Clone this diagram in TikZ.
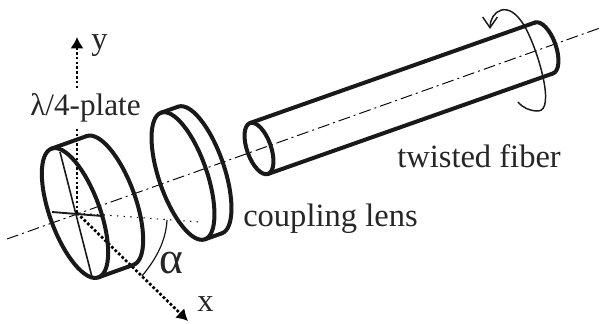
\documentclass[tikz,border=0pt]{standalone}
\usepackage{fontspec}
\setmainfont{Liberation Serif}
\usetikzlibrary{arrows.meta}
\tikzset{
  thick line/.style={line width=3pt,line cap=round,line join=round,draw=black!90},
  fine/.style={line width=0.9pt,draw=black!90},
  centerline/.style={line width=0.7pt,dash pattern=on 9pt off 3pt on 1.5pt off 3pt},
  axisdots/.style={line width=2pt,dash pattern=on 2pt off 1.6pt,-{Latex[length=8.5pt,width=10pt]}},
  finedots/.style={line width=0.8pt,dash pattern=on 1pt off 4pt},
  lbl/.style={font=\fontsize{24.4pt}{26pt}\selectfont,text=black!85,inner sep=0pt,anchor=base west},
}
\begin{document}
\begin{tikzpicture}[x=0.75pt,y=0.75pt]
\useasboundingbox (0,0) rectangle (601,-324);
\coordinate (o) at (77,-213);
\coordinate (axisL) at (7,-239);
\coordinate (axisR) at (600,-28);
\coordinate (ytip) at (77,-37);
\coordinate (xtip) at (188,-321);
\coordinate (dotEnd) at (200,-222);
% centre line
\draw[centerline] (axisL) -- (axisR);
% fine dotted line
\draw[finedots] (o) -- (dotEnd);
% axes
\draw[axisdots] (o) -- (ytip);
\draw[axisdots] (o) -- (xtip);
% plate
\coordinate (pf) at (75,-213);
\coordinate (pb) at (110,-200.5);
\begin{scope}[shift={(pf)},rotate=-70]
  \coordinate (pfb) at (68.5,0);
  \coordinate (pft) at (-68.5,0);
  \draw[thick line] (0,0) ellipse (68.5 and 25);
\end{scope}
\begin{scope}[shift={(pb)},rotate=-70]
  \coordinate (pbb) at (68.5,0);
  \coordinate (pbt) at (-68.5,0);
  \draw[thick line] (68.5,0) arc (0:180:68.5 and 25);
\end{scope}
\draw[thick line] (pft) -- (pbt);
\draw[thick line] (pfb) -- (pbb);
\coordinate (c1a) at (60,-152);
\coordinate (c1b) at (92,-277);
\coordinate (c2a) at (52,-212);
\coordinate (c2b) at (102,-216);
\draw[line width=1.2pt,draw=black!90] (c1a) -- (c1b);
\draw[line width=1.4pt,draw=black!90] (c2a) -- (c2b);
% lens
\coordinate (lf) at (183,-176);
\coordinate (lb) at (200,-170);
\begin{scope}[shift={(lf)},rotate=-71]
  \coordinate (lfb) at (67,0);
  \coordinate (lft) at (-67,0);
  \draw[thick line] (0,0) ellipse (67 and 24);
\end{scope}
\begin{scope}[shift={(lb)},rotate=-71]
  \coordinate (lbb) at (67,0);
  \coordinate (lbt) at (-67,0);
  \draw[thick line] (67,0) arc (0:180:67 and 24);
\end{scope}
\draw[thick line] (lft) -- (lbt);
\draw[thick line] (lfb) -- (lbb);
% fiber
\coordinate (fl) at (259,-148.5);
\coordinate (fr) at (544,-48);
\begin{scope}[shift={(fl)},rotate=-70.5]
  \coordinate (flb) at (27,0);
  \coordinate (flt) at (-27,0);
  \draw[thick line] (0,0) ellipse (27 and 12);
\end{scope}
\begin{scope}[shift={(fr)},rotate=-70.5]
  \coordinate (frb) at (27,0);
  \coordinate (frt) at (-27,0);
  \draw[thick line] (27,0) arc (0:180:27 and 12);
\end{scope}
\draw[thick line] (flt) -- (frt);
\draw[thick line] (flb) -- (frb);
% rotation arrow
\coordinate (r1) at (490,-29);
\coordinate (r2) at (518,-102);
\draw[line width=1.1pt,draw=black!90,{Straight Barb[length=8pt,width=11pt,line width=1.1pt]}-]
  (r1) .. controls (490,-12) and (508,3) .. (525,-27)
       .. controls (538,-50) and (556,-111) .. (538,-111)
       .. controls (530,-111) and (523,-108) .. (r2);
% angle
\coordinate (a1) at (167,-220);
\coordinate (a2) at (142,-276);
\draw[fine] (a1) .. controls (166,-240) and (157,-258) .. (a2);
% labels
\node[lbl,font=\fontsize{23.4pt}{26pt}\selectfont,fill=white,inner ysep=3pt] (plate) at (30,-116) {λ/4-plate};
\node[lbl] (ylab) at (91,-50) {y};
\node[lbl] (xlab) at (197,-312) {x};
\node[lbl,font=\fontsize{34pt}{36pt}\selectfont] (alpha) at (159,-274) {α};
\node[lbl] (lens) at (243,-227) {coupling lens};
\node[lbl] (fiber) at (397,-168) {twisted fiber};
\end{tikzpicture}
\end{document}
